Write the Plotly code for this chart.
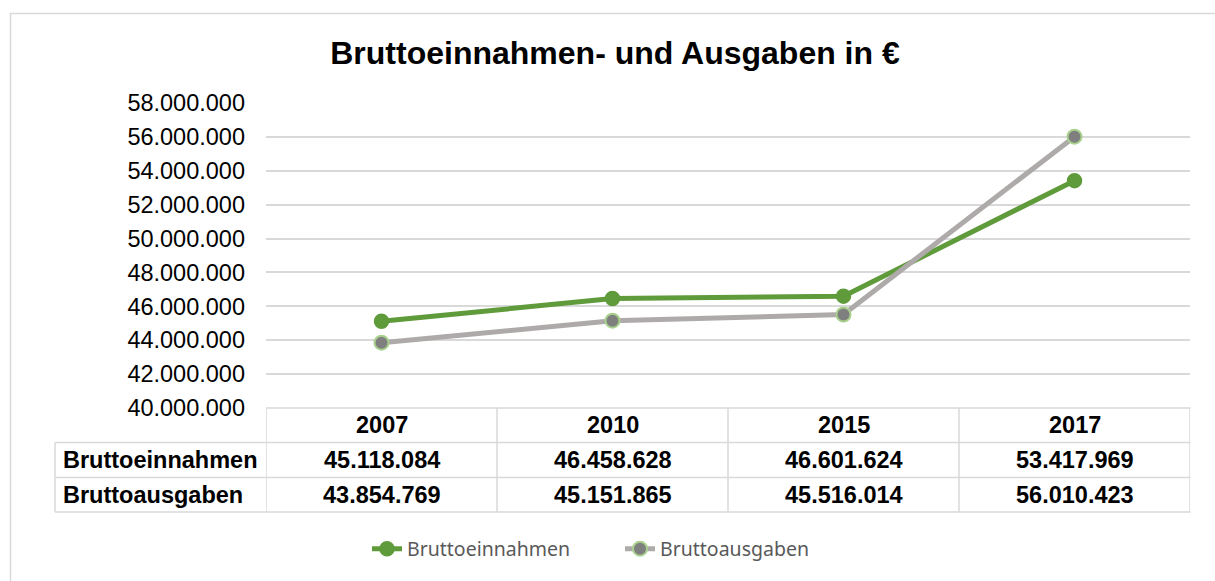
import plotly.graph_objects as go

years = ["2007", "2010", "2015", "2017"]
einnahmen = [45118084, 46458628, 46601624, 53417969]
ausgaben = [43854769, 45151865, 45516014, 56010423]
series_names = ["Bruttoeinnahmen", "Bruttoausgaben"]
title_text = "Bruttoeinnahmen- und Ausgaben in €"

W, H = 1215, 581
def px(x):
    return x / W
def py(y):
    return 1 - y / H

GREEN = "#5F9B3B"
GRAY = "#AEAAAA"
GRID = "#D9D9D9"

fig = go.Figure()
fig.add_trace(go.Scatter(
    x=years, y=einnahmen, name=series_names[0], mode="lines+markers",
    line=dict(color=GREEN, width=5),
    marker=dict(size=14, color=GREEN, line=dict(color=GREEN, width=1.5)),
))
fig.add_trace(go.Scatter(
    x=years, y=ausgaben, name=series_names[1], mode="lines+markers",
    line=dict(color=GRAY, width=5),
    marker=dict(size=14, color="#7F7F7F", line=dict(color="#A9D18E", width=2)),
))

shapes = []
# outer chart border (top and left)
shapes.append(dict(type="line", xref="paper", yref="paper", x0=px(10), x1=1.01, y0=py(13.5), y1=py(13.5),
                   line=dict(color=GRID, width=1.5)))
shapes.append(dict(type="line", xref="paper", yref="paper", x0=px(10.5), x1=px(10.5), y0=py(13.5), y1=-0.01,
                   line=dict(color=GRID, width=1.5)))

row_tops = [408, 442.5, 477.5, 512]
# horizontal table lines
shapes.append(dict(type="line", xref="paper", yref="paper", x0=px(266), x1=px(1190.5), y0=py(row_tops[0]), y1=py(row_tops[0]),
                   line=dict(color=GRID, width=1.5)))
for yy in row_tops[1:]:
    shapes.append(dict(type="line", xref="paper", yref="paper", x0=px(55), x1=px(1190.5), y0=py(yy), y1=py(yy),
                       line=dict(color=GRID, width=1.5)))
# vertical table lines at category boundaries
for i in range(len(years) + 1):
    shapes.append(dict(type="line", xref="x", yref="paper", x0=i - 0.5, x1=i - 0.5,
                       y0=py(row_tops[0]), y1=py(row_tops[-1]), line=dict(color=GRID, width=1.5)))
shapes.append(dict(type="line", xref="paper", yref="paper", x0=px(55), x1=px(55),
                   y0=py(row_tops[1]), y1=py(row_tops[-1]), line=dict(color=GRID, width=1.5)))

def fmt(v):
    return f"{v:,}".replace(",", ".")

tfont = dict(family="Liberation Sans, Arial", size=23.5, color="#000000")
annotations = []
centers = [(row_tops[k] + row_tops[k + 1]) / 2 for k in range(3)]
for i, yr in enumerate(years):
    for k, txt in enumerate([yr, fmt(einnahmen[i]), fmt(ausgaben[i])]):
        annotations.append(dict(x=i, xref="x", y=py(centers[k]), yref="paper", text=f"<b>{txt}</b>",
                                showarrow=False, font=tfont, xanchor="center", yanchor="middle"))
for k, nm in enumerate(series_names):
    annotations.append(dict(x=px(61), xref="paper", y=py(centers[k + 1]), yref="paper", text=f"<b>{nm}</b>",
                            showarrow=False, font=tfont, xanchor="left", yanchor="middle"))

fig.update_layout(
    width=W, height=H,
    margin=dict(l=0, r=0, t=0, b=0, autoexpand=False),
    paper_bgcolor="white", plot_bgcolor="white",
    separators=",.",
    title=dict(text=f"<b>{title_text}</b>", x=px(615), xanchor="center", y=py(53), yanchor="middle",
               font=dict(family="Liberation Sans, Arial", size=32, color="#000000")),
    xaxis=dict(type="category", domain=[px(266), px(1190)], range=[-0.5, 3.5], automargin=False,
               showticklabels=False, showgrid=False, zeroline=False, showline=False),
    yaxis=dict(domain=[py(408), py(103)], range=[40000000, 58000000], dtick=2000000, automargin=False,
               tickformat=",d", showgrid=True, gridcolor=GRID, gridwidth=1.5, zeroline=False,
               showline=False, ticks="", ticklabelstandoff=20,
               tickfont=dict(family="Liberation Sans, Arial", size=23.5, color="#000000")),
    legend=dict(orientation="h", x=px(620), xanchor="center", y=py(549), yanchor="middle",
                entrywidth=208, entrywidthmode="pixels",
                font=dict(family="Noto Sans", size=19.5, color="#595959"), bgcolor="rgba(0,0,0,0)"),
    shapes=shapes, annotations=annotations,
)

fig.write_html("out.html", config={"displayModeBar": False},
               post_script="document.body.style.margin='0';")
